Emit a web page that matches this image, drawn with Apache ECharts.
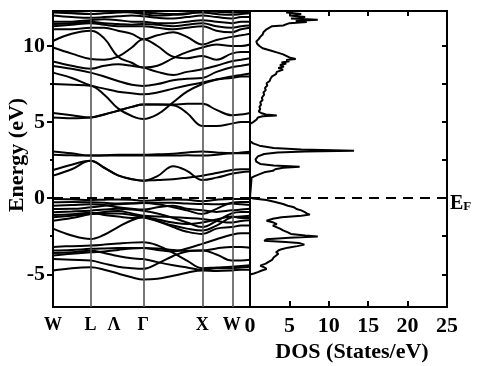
<!DOCTYPE html>
<html><head><meta charset="utf-8">
<script src="https://cdn.jsdelivr.net/npm/echarts@6/dist/echarts.min.js"></script>
<style>html,body{margin:0;padding:0;background:#fff}#c{width:481px;height:366px}</style>
</head><body><div id="c"></div>
<script>
// k-path sample positions (fraction of path) and high-symmetry labels
const kPos = [0, 0.095, 0.191, 0.26, 0.33, 0.40, 0.458, 0.53, 0.61, 0.68, 0.758, 0.83, 0.907, 0.955, 1];
const symLinePos = [0.191, 0.458, 0.758, 0.907];
const kLabelPos = [0, 0.191, 0.31, 0.458, 0.758, 0.907];
const kLabels = ['W', 'L', '\u039B', '\u0393', 'X', 'W'];
const energyTicks = [-5, 0, 5, 10];
const energyMinor = [-2.5, 2.5, 7.5];
const dosRightTicks = [-5, -2.5, 0, 2.5, 5, 7.5, 10];
const dosTicks = [0, 5, 10, 15, 20, 25];

// band energies (eV) at kPos
const c1 = [1.48, 1.9, 2.46, 2.0, 1.5, 1.25, 1.15, 1.45, 2.1, 1.8, 1.2, 1.35, 1.6, 1.7, 1.75];
const c2 = [1.85, 2.2, 2.46, 2.0, 1.5, 1.25, 1.15, 1.2, 1.25, 1.35, 1.48, 1.65, 1.85, 1.9, 1.9];
const c3 = [3.07, 2.95, 2.8, 2.8, 2.8, 2.8, 2.8, 2.8, 2.8, 2.82, 2.8, 2.85, 2.95, 2.95, 2.95];
const c4 = [2.85, 2.82, 2.8, 2.82, 2.85, 2.85, 2.85, 2.88, 2.92, 3.0, 3.07, 3.0, 2.95, 3.0, 3.05];
const u1 = [5.6, 5.45, 5.3, 5.5, 5.75, 6.0, 6.15, 6.15, 6.1, 5.6, 4.75, 4.75, 4.9, 5.0, 5.0];
const u2 = [5.3, 5.25, 5.3, 5.5, 5.75, 6.0, 6.15, 6.15, 6.15, 6.2, 6.2, 5.8, 5.45, 5.5, 5.6];
const u3 = [7.5, 7.45, 7.38, 6.8, 5.9, 5.4, 5.2, 5.5, 6.3, 7.0, 7.5, 7.8, 8.0, 8.1, 8.2];
const u4 = [8.25, 7.9, 7.4, 7.2, 7.0, 6.9, 6.83, 6.95, 7.2, 7.4, 7.6, 7.8, 7.9, 8.0, 8.0];
const u5 = [8.69, 8.5, 8.25, 8.0, 7.7, 7.45, 7.38, 7.5, 7.75, 7.85, 7.9, 8.3, 8.6, 8.7, 8.8];
const u6 = [8.98, 8.7, 8.5, 8.7, 8.8, 8.7, 8.58, 8.3, 8.1, 8.3, 8.47, 8.7, 9.0, 9.1, 9.2];
const u7 = [9.9, 9.5, 9.15, 9.1, 9.3, 9.9, 10.45, 10.0, 9.3, 9.2, 9.35, 9.1, 9.5, 9.6, 9.6];
const u8 = [10.33, 10.8, 11.0, 10.5, 9.3, 8.9, 8.58, 8.7, 9.2, 9.6, 9.9, 10.1, 10.0, 10.0, 10.1];
const u9 = [11.1, 11.1, 11.2, 11.2, 11.0, 10.8, 10.45, 10.7, 10.9, 10.6, 10.1, 10.4, 10.6, 10.7, 10.8];
const u10 = [11.3, 11.4, 11.5, 11.4, 11.3, 11.3, 11.3, 11.2, 11.1, 11.2, 11.3, 11.0, 10.9, 11.1, 11.2];
const u11 = [11.6, 11.6, 11.7, 11.75, 11.7, 11.6, 11.6, 11.5, 11.5, 11.6, 11.7, 11.6, 11.5, 11.6, 11.6];
const u12 = [12.0, 11.9, 11.85, 11.9, 11.95, 12.0, 11.95, 11.85, 11.8, 11.9, 12.0, 11.9, 11.8, 11.9, 11.9];
const u13 = [12.2, 12.15, 12.1, 12.15, 12.2, 12.25, 12.2, 12.15, 12.1, 12.15, 12.2, 12.1, 12.05, 12.1, 12.15];
const u14 = [11.45, 11.5, 11.6, 11.5, 11.45, 11.4, 11.45, 11.4, 11.3, 11.4, 11.5, 11.3, 11.2, 11.3, 11.35];
const u15 = [12.3, 12.25, 12.3, 12.28, 12.25, 12.2, 12.1, 12.0, 12.05, 12.1, 12.3, 12.25, 12.2, 12.2, 12.25];
const v1 = [-0.05, -0.07, -0.12, -0.1, -0.08, -0.1, -0.17, -0.12, -0.08, -0.1, -0.2, -0.1, -0.05, -0.05, -0.05];
const v2 = [-0.27, -0.25, -0.27, -0.3, -0.35, -0.33, -0.32, -0.4, -0.6, -0.8, -1.04, -0.7, -0.3, -0.25, -0.25];
const v3 = [-0.71, -0.7, -0.6, -0.5, -0.4, -0.35, -0.32, -0.3, -0.3, -0.35, -0.38, -0.4, -0.35, -0.4, -0.45];
const v4 = [-0.93, -0.88, -0.82, -0.75, -0.7, -0.75, -0.82, -1.0, -1.3, -1.6, -1.9, -1.5, -1.0, -0.9, -0.9];
const v5 = [-1.26, -1.15, -1.04, -1.0, -1.0, -1.1, -1.26, -1.5, -1.8, -2.0, -2.13, -1.8, -1.26, -1.2, -1.15];
const v6 = [-1.48, -1.3, -1.04, -0.9, -0.85, -1.0, -1.15, -1.2, -1.25, -1.3, -1.37, -1.5, -1.6, -1.5, -1.45];
const v7 = [-2.0, -2.45, -2.68, -2.4, -1.9, -1.45, -1.26, -1.5, -1.9, -2.2, -2.35, -2.0, -1.9, -1.8, -1.8];
const v8 = [-3.2, -3.15, -3.11, -3.05, -2.98, -2.92, -2.9, -3.1, -3.6, -4.1, -4.6, -4.55, -4.5, -4.45, -4.4];
const v9 = [-3.44, -3.4, -3.33, -3.3, -3.28, -3.27, -3.27, -3.3, -3.4, -3.45, -3.44, -3.3, -3.2, -3.2, -3.25];
const v10 = [-3.77, -3.65, -3.55, -3.5, -3.4, -3.3, -3.27, -3.4, -3.5, -3.3, -3.0, -2.7, -2.4, -2.3, -2.3];
const v11 = [-3.99, -4.05, -4.1, -4.3, -4.5, -4.6, -4.64, -4.3, -3.8, -3.5, -3.44, -3.7, -4.1, -4.1, -4.05];
const v12 = [-4.75, -4.6, -4.54, -4.7, -4.95, -5.2, -5.35, -5.3, -5.1, -4.9, -4.75, -4.78, -4.75, -4.7, -4.7];
const v13 = [-0.5, -0.45, -0.4, -0.45, -0.6, -0.7, -0.75, -0.6, -0.5, -0.7, -0.8, -0.9, -0.8, -0.75, -0.7];
const v14 = [-1.1, -1.05, -0.95, -1.1, -1.2, -1.3, -1.26, -1.4, -1.6, -1.7, -1.6, -1.4, -1.2, -1.3, -1.3];
const v15 = [-3.6, -3.55, -3.45, -3.6, -3.8, -3.95, -4.0, -4.2, -4.4, -4.55, -4.7, -4.6, -4.6, -4.55, -4.5];
const bands = [c1, c2, c3, c4, u1, u2, u3, u4, u5, u6, u7, u8, u9, u10, u11, u12, u13, u14, u15,
  v1, v2, v3, v4, v5, v6, v7, v8, v9, v10, v11, v12, v13, v14, v15];

// density of states: energy (eV) and DOS (states/eV)
const dosE = [12.3, 12.2, 12.1, 12.0, 11.9, 11.8, 11.72, 11.65, 11.58, 11.5, 11.42, 11.35, 11.3, 11.2, 11.1, 11.0, 10.9, 10.75, 10.6, 10.45,
  10.3, 10.15, 10.0, 9.85, 9.7, 9.55, 9.45, 9.35, 9.25, 9.15, 9.08, 9.0, 8.92, 8.85, 8.75, 8.65, 8.55, 8.45, 8.3, 8.15,
  8.0, 7.85, 7.7, 7.55, 7.4, 7.25, 7.1, 6.95, 6.8, 6.6, 6.45, 6.3, 6.15, 6.0, 5.85, 5.7, 5.6, 5.5, 5.43, 5.38,
  5.3, 5.15, 5.0, 4.88, 3.75, 3.6, 3.45, 3.3, 3.2, 3.12, 3.06, 3.0, 2.9, 2.75, 2.55, 2.4, 2.25, 2.15, 2.07, 2.0,
  1.9, 1.8, 1.7, 1.6, 1.45, 1.35, 1.3, 0.05, -0.02, -0.12, -0.25, -0.38, -0.5, -0.6, -0.71, -0.8, -0.9, -1.0, -1.08, -1.15,
  -1.25, -1.35, -1.48, -1.6, -1.7, -1.8, -1.9, -2.0, -2.12, -2.25, -2.35, -2.45, -2.52, -2.6, -2.7, -2.8, -2.88, -2.95, -3.05, -3.15,
  -3.25, -3.35, -3.44, -3.55, -3.65, -3.77, -3.9, -4.05, -4.2, -4.3, -4.43, -4.55, -4.65, -4.75, -4.86, -4.95, -5.02, -7.15];
const dosVal = [5.5, 4.6, 6.5, 5.0, 7.0, 5.2, 8.6, 5.8, 7.2, 5.0, 5.2, 4.2, 2.8, 2.6, 2.1, 2.0, 1.7, 1.6, 1.3, 1.1,
  0.8, 0.9, 1.2, 1.6, 2.6, 3.6, 4.2, 4.0, 5.0, 5.8, 4.6, 5.0, 4.0, 4.6, 3.8, 4.3, 3.6, 4.2, 3.4, 3.3,
  2.8, 2.6, 2.5, 2.1, 2.2, 1.9, 2.0, 1.7, 1.8, 1.5, 1.6, 1.3, 1.4, 1.2, 1.3, 1.1, 1.4, 2.0, 3.4, 1.6,
  1.0, 0.8, 0.4, 0, 0, 0.4, 1.2, 3.0, 6.5, 13.2, 7.0, 3.5, 1.8, 1.0, 0.7, 0.8, 1.3, 3.0, 6.3, 4.2,
  3.2, 2.9, 1.8, 1.3, 0.6, 0.2, 0, 0, 0.4, 2.1, 3.2, 4.2, 4.8, 5.6, 5.9, 6.5, 6.9, 7.2, 7.6, 6.5,
  4.0, 2.9, 2.1, 3.0, 3.4, 2.9, 3.0, 3.8, 4.2, 4.8, 5.2, 7.0, 8.6, 5.0, 2.1, 1.8, 4.5, 6.2, 6.9, 6.0,
  4.8, 4.0, 3.6, 3.3, 3.6, 3.4, 3.0, 2.8, 2.3, 2.0, 1.3, 1.8, 2.1, 1.5, 1.0, 0.5, 0, 0];

const E_MIN = -7.15, E_MAX = 12.3;
const FONT = 'Liberation Serif';

const chart = echarts.init(document.getElementById('c'), null, {renderer: 'canvas'});
const series = bands.map((b, i) => ({
  type: 'line', xAxisIndex: 0, yAxisIndex: 0, smooth: 0.4, symbol: 'none', silent: true,
  lineStyle: {color: '#000', width: 2}, data: kPos.map((k, j) => [k, b[j]]),
  markLine: i === 0 ? {
    silent: true, symbol: 'none', label: {show: false},
    data: [
      ...symLinePos.map(p => ({xAxis: p, lineStyle: {color: '#555', width: 1.6, type: 'solid'}})),
      {yAxis: 0, lineStyle: {color: '#000', width: 2, type: [10, 7]}}
    ]
  } : undefined,
  z: 3
}));
series.push({
  type: 'line', xAxisIndex: 1, yAxisIndex: 2, symbol: 'none', silent: true,
  lineStyle: {color: '#000', width: 2}, data: dosE.map((e, j) => [dosVal[j], e]),
  markLine: {silent: true, symbol: 'none', label: {show: false},
    data: [{yAxis: 0, lineStyle: {color: '#000', width: 2, type: [10, 7]}}]}
});

const lblStyle = {color: '#000', fontFamily: FONT, fontWeight: 'bold'};
const blackLine = {show: true, onZero: false, lineStyle: {color: '#000', width: 2}};
const noLine = {show: false, onZero: false};
chart.setOption({
  animation: false,
  backgroundColor: '#fff',
  grid: [
    {left: 53, top: 11, width: 197, height: 296, show: true, borderColor: '#000', borderWidth: 2, backgroundColor: 'transparent'},
    {left: 250, top: 11, width: 197, height: 296, show: true, borderColor: '#000', borderWidth: 2, backgroundColor: 'transparent'}
  ],
  xAxis: [
    {gridIndex: 0, type: 'value', position: 'bottom', min: 0, max: 1, axisLine: blackLine, axisTick: {show: false}, splitLine: {show: false},
     axisLabel: Object.assign({customValues: kLabelPos, fontSize: 18, margin: 9,
       formatter: v => { const i = kLabelPos.findIndex(p => Math.abs(p - v) < 1e-6); return i >= 0 ? kLabels[i] : ''; }}, lblStyle)},
    {gridIndex: 1, type: 'value', position: 'bottom', min: 0, max: 25, interval: 5, axisLine: blackLine, splitLine: {show: false},
     axisTick: {show: true, inside: true, length: 6, customValues: dosTicks, lineStyle: {color: '#000', width: 2}},
     axisLabel: Object.assign({fontSize: 22, margin: 8, customValues: dosTicks}, lblStyle)},
    {gridIndex: 1, type: 'value', position: 'top', min: 0, max: 25, interval: 5, axisLine: blackLine, splitLine: {show: false},
     axisTick: {show: true, inside: true, length: 5, customValues: dosTicks, lineStyle: {color: '#000', width: 2}}, axisLabel: {show: false}}
  ],
  yAxis: [
    {gridIndex: 0, type: 'value', position: 'left', min: E_MIN, max: E_MAX, axisLine: blackLine, splitLine: {show: false},
     axisTick: {show: true, customValues: energyTicks, length: 6, lineStyle: {color: '#000', width: 2}},
     axisLabel: Object.assign({customValues: energyTicks, fontSize: 22, margin: 8}, lblStyle)},
    {gridIndex: 0, type: 'value', position: 'left', offset: 0, min: E_MIN, max: E_MAX, axisLine: noLine, splitLine: {show: false},
     axisTick: {show: true, customValues: energyMinor, length: 3, lineStyle: {color: '#000', width: 2}}, axisLabel: {show: false}},
    {gridIndex: 1, type: 'value', position: 'right', min: E_MIN, max: E_MAX, axisLine: blackLine, splitLine: {show: false},
     axisTick: {show: true, inside: true, customValues: dosRightTicks, length: 5, lineStyle: {color: '#000', width: 2}},
     axisLabel: {show: false}}
  ],
  graphic: [
    {type: 'text', x: 17, y: 155, rotation: Math.PI / 2,
     style: {text: 'Energy (eV)', font: 'bold 22px "Liberation Serif"', fill: '#000', align: 'center', verticalAlign: 'middle'}},
    {type: 'text', x: 352, y: 352,
     style: {text: 'DOS (States/eV)', font: 'bold 22px "Liberation Serif"', fill: '#000', align: 'center', verticalAlign: 'middle'}},
    {type: 'text', x: 450, y: 200,
     style: {text: '{a|E}{b|F}', fill: '#000', align: 'left', verticalAlign: 'middle',
       rich: {a: {fontFamily: FONT, fontWeight: 'bold', fontSize: 20, verticalAlign: 'bottom'},
              b: {fontFamily: FONT, fontWeight: 'bold', fontSize: 13, padding: [14, 0, 0, 0]}}}}
  ],
  series: series
});
</script></body></html>
